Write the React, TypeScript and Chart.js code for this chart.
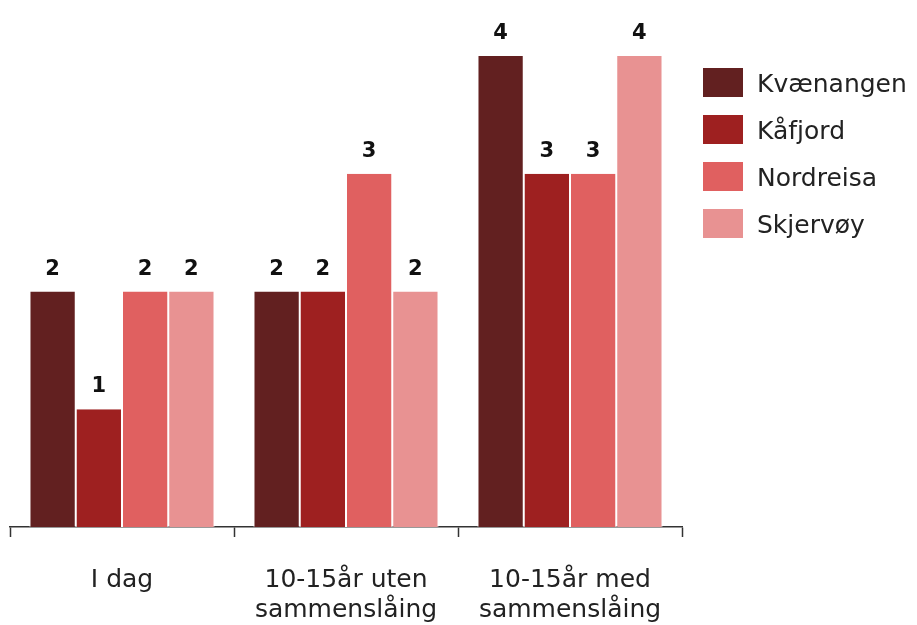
import React, { useEffect, useRef } from "react";
import { Chart, registerables } from "chart.js";

Chart.register(...registerables);

const categories: (string | string[])[] = [
  "I dag",
  ["10-15år uten", "sammenslåing"],
  ["10-15år med", "sammenslåing"],
];
const seriesNames = ["Kvænangen", "Kåfjord", "Nordreisa", "Skjervøy"];
const kvaenangen = [2, 2, 4];
const kafjord = [1, 2, 3];
const nordreisa = [2, 3, 3];
const skjervoy = [2, 2, 4];
const seriesColors = ["#622020", "#9e2020", "#e06060", "#e89292"];

const FONT = "'DejaVu Sans', sans-serif";

const valueLabelPlugin = {
  id: "valueLabels",
  afterDatasetsDraw(chart: any) {
    const ctx = chart.ctx;
    ctx.save();
    ctx.font = `bold 21px ${FONT}`;
    ctx.fillStyle = "#111";
    ctx.textAlign = "center";
    ctx.textBaseline = "alphabetic";
    chart.data.datasets.forEach((ds: any, i: number) => {
      const meta = chart.getDatasetMeta(i);
      meta.data.forEach((bar: any, j: number) => {
        ctx.fillText(String(ds.data[j]), bar.x, bar.y - 17);
      });
    });
    ctx.restore();
  },
};

const legendPlugin = {
  id: "customLegend",
  afterDraw(chart: any) {
    const ctx = chart.ctx;
    ctx.save();
    ctx.font = `25px ${FONT}`;
    ctx.textBaseline = "alphabetic";
    ctx.textAlign = "left";
    chart.data.datasets.forEach((ds: any, i: number) => {
      const y = 68 + i * 47;
      ctx.fillStyle = ds.backgroundColor;
      ctx.fillRect(703, y, 40, 29);
      ctx.fillStyle = "#222";
      ctx.fillText(ds.label, 757, y + 24);
    });
    ctx.restore();
  },
};

export default function App() {
  const ref = useRef<HTMLCanvasElement>(null);
  useEffect(() => {
    const seriesData = [kvaenangen, kafjord, nordreisa, skjervoy];
    const chart = new Chart(ref.current!, {
      type: "bar",
      data: {
        labels: categories,
        datasets: seriesNames.map((name, i) => ({
          label: name,
          data: seriesData[i],
          backgroundColor: seriesColors[i],
          borderColor: "#ffffff",
          borderWidth: { left: 1, right: 1, top: 0, bottom: 0 },
          borderSkipped: false,
          categoryPercentage: 0.826,
          barPercentage: 1.0,
        })),
      },
      options: {
        responsive: false,
        animation: false,
        layout: { padding: { left: 10, right: 235, top: 56, bottom: 0 } },
        plugins: {
          legend: { display: false },
          tooltip: { enabled: false },
        },
        scales: {
          x: {
            afterFit(scale: any) {
              scale.height = 98;
            },
            border: { display: true, color: "#333", width: 1.5 },
            grid: {
              display: true,
              offset: true,
              drawOnChartArea: false,
              drawTicks: true,
              tickLength: 10,
              tickWidth: 1.5,
              color: "#333",
            },
            ticks: {
              color: "#222",
              padding: 28,
              maxRotation: 0,
              autoSkip: false,
              font: { family: FONT, size: 25, lineHeight: 1.2 },
            },
          },
          y: {
            display: false,
            min: 0,
            max: 4,
          },
        },
      },
      plugins: [valueLabelPlugin, legendPlugin],
    });
    return () => chart.destroy();
  }, []);
  return (
    <div style={{ position: "fixed", left: 0, top: 0, width: 917, height: 625, background: "#fff" }}>
      <canvas ref={ref} width={917} height={625} />
    </div>
  );
}
